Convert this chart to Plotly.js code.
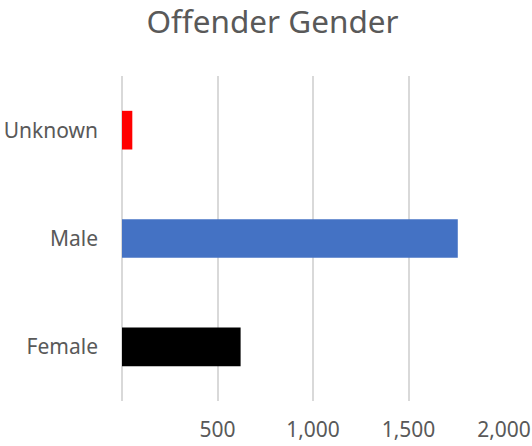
<!DOCTYPE html>
<html>
<head>
<meta charset="utf-8">
<script src="https://cdn.plot.ly/plotly-3.0.1.min.js"></script>
<style>html,body{margin:0;padding:0;background:#fff;}#chart{width:532px;height:446px;}</style>
</head>
<body>
<div id="chart"></div>
<script>
const categories = ['Female', 'Male', 'Unknown'];
const counts = [621, 1758, 54];
const barColors = ['#000000', '#4472C4', '#FF0000'];
const xTickVals = [500, 1000, 1500, 2000];
const xTickText = ['500', '1,000', '1,500', '2,000'];
const chartTitle = 'Offender Gender';

const trace = {
  type: 'bar',
  orientation: 'h',
  y: categories,
  x: counts,
  marker: {color: barColors, line: {width: 0}},
  hoverinfo: 'x+y'
};

const layout = {
  width: 532,
  height: 446,
  margin: {l: 122, r: 28, t: 76, b: 45, pad: 0},
  paper_bgcolor: '#ffffff',
  plot_bgcolor: '#ffffff',
  font: {family: 'Noto Sans, sans-serif', color: '#595959', size: 21},
  title: {
    text: chartTitle,
    font: {family: 'Noto Sans, sans-serif', size: 31.5, color: '#595959'},
    x: 272.5 / 532, xref: 'container', xanchor: 'center',
    y: 1 - 22 / 446, yref: 'container', yanchor: 'middle'
  },
  bargap: 0.643,
  showlegend: false,
  xaxis: {
    range: [0, 2000],
    tickvals: xTickVals,
    ticktext: xTickText,
    showgrid: true,
    gridcolor: '#D9D9D9',
    gridwidth: 2,
    zeroline: true,
    zerolinecolor: '#D9D9D9',
    zerolinewidth: 2,
    showline: false,
    ticks: '',
    ticklabelstandoff: 14,
    tickfont: {size: 21, color: '#595959'},
    fixedrange: true
  },
  yaxis: {
    type: 'category',
    categoryorder: 'array',
    categoryarray: categories,
    showgrid: false,
    zeroline: false,
    showline: false,
    ticks: '',
    ticklabelstandoff: 23,
    tickfont: {size: 21, color: '#595959'},
    fixedrange: true
  }
};

Plotly.newPlot('chart', [trace], layout, {displayModeBar: false, staticPlot: true});
</script>
</body>
</html>
